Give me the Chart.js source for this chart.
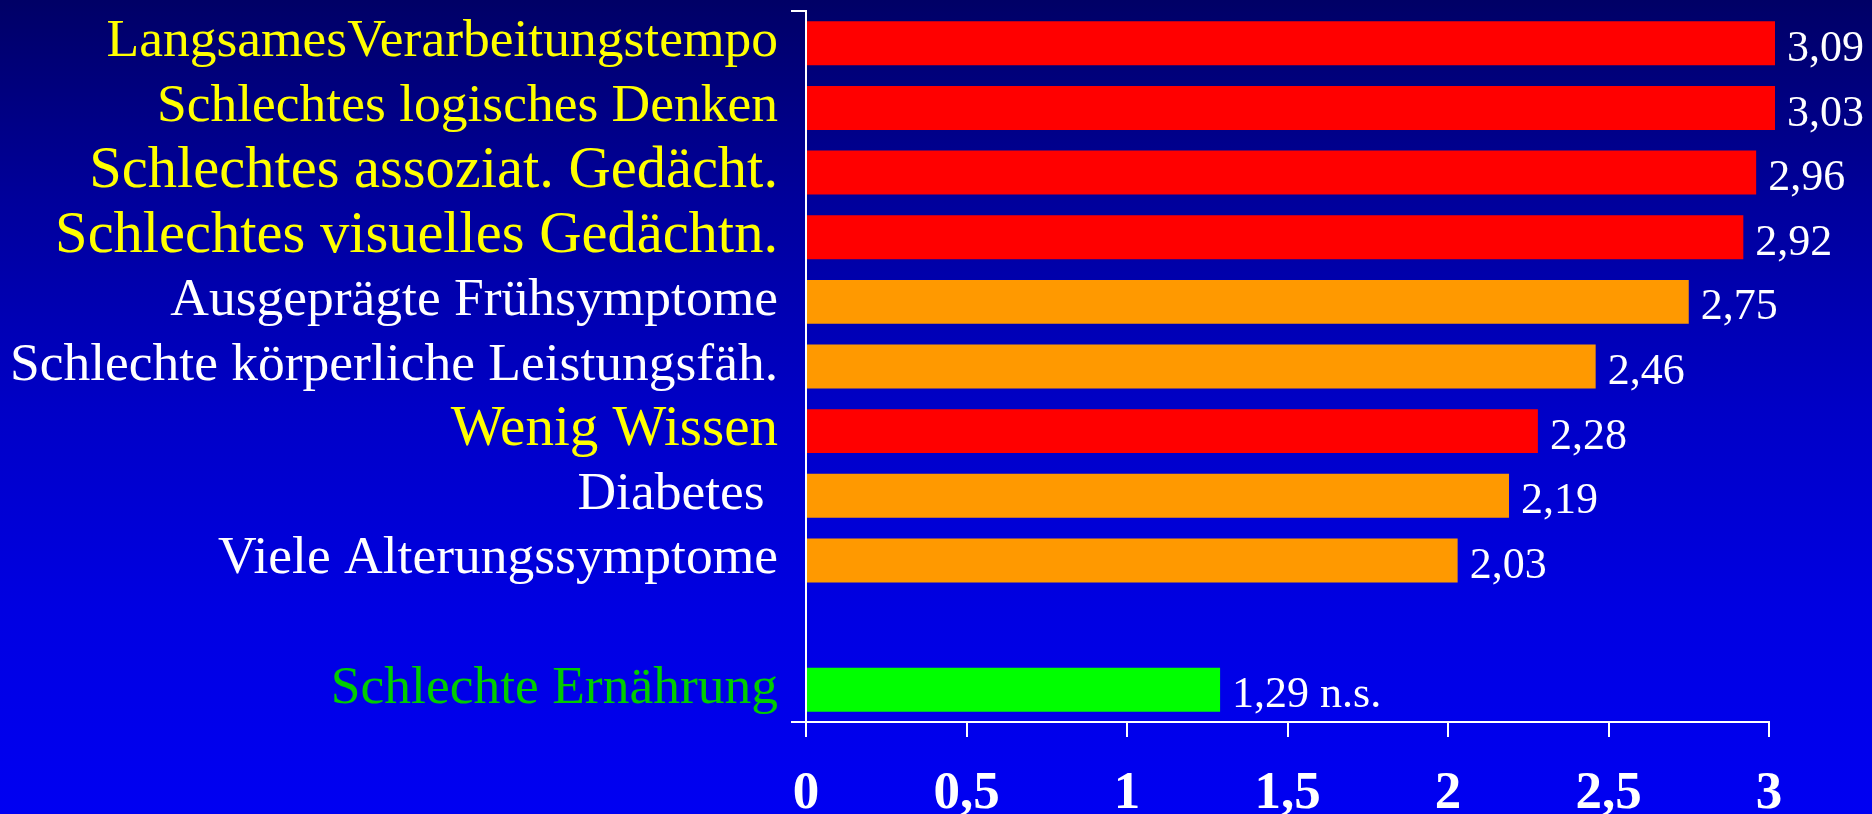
<!DOCTYPE html>
<html>
<head>
<meta charset="utf-8">
<style>
  html, body { margin: 0; padding: 0; background: #0000c0; overflow: hidden; }
  #c { display: block; }
</style>
<script src="https://cdn.jsdelivr.net/npm/chart.js@4/dist/chart.umd.min.js"></script>
</head>
<body>
<canvas id="c" width="1872" height="814"></canvas>
<script>
// ---- data ----
const categories = [
  'LangsamesVerarbeitungstempo',
  'Schlechtes logisches Denken',
  'Schlechtes assoziat. Gedächt.',
  'Schlechtes visuelles Gedächtn.',
  'Ausgeprägte Frühsymptome',
  'Schlechte körperliche Leistungsfäh.',
  'Wenig Wissen',
  'Diabetes ',
  'Viele Alterungssymptome',
  '',
  'Schlechte Ernährung'
];
const oddsValues = [3.09, 3.03, 2.96, 2.92, 2.75, 2.46, 2.28, 2.19, 2.03, null, 1.29];
const valueNotes = ['', '', '', '', '', '', '', '', '', '', 'n.s.'];
const groups = ['kognitiv', 'kognitiv', 'kognitiv', 'kognitiv', 'körperlich', 'körperlich',
                'kognitiv', 'körperlich', 'körperlich', null, 'ernährung'];
const xTickLabels = ['0', '0,5', '1', '1,5', '2', '2,5', '3'];

// ---- styles ----
const barColors = { 'kognitiv': '#ff0000', 'körperlich': '#ff9900', 'ernährung': '#00ff00' };
const labelColors = { 'kognitiv': '#ffff00', 'körperlich': '#ffffff', 'ernährung': '#00cc00' };
const labelSizes = [53.5, 53.5, 58.5, 58.5, 53.5, 53.5, 57, 53.5, 53.5, 53.5, 53.5];
const SERIF = '"Liberation Serif", "Times New Roman", Times, serif';

const bgPlugin = {
  id: 'bg',
  beforeDraw(chart) {
    const ctx = chart.ctx;
    const g = ctx.createLinearGradient(0, 0, 0, chart.height);
    g.addColorStop(0, '#000066');
    g.addColorStop(0.25, '#00009c');
    g.addColorStop(0.5, '#0000c6');
    g.addColorStop(0.75, '#0000e2');
    g.addColorStop(1, '#0000f2');
    ctx.save();
    ctx.fillStyle = g;
    ctx.fillRect(0, 0, chart.width, chart.height);
    ctx.restore();
  }
};

const valueLabelPlugin = {
  id: 'valueLabels',
  afterDatasetsDraw(chart) {
    const ctx = chart.ctx;
    const meta = chart.getDatasetMeta(0);
    const area = chart.chartArea;
    const clipRight = area.right + 6;
    ctx.save();
    ctx.fillStyle = '#ffffff';
    ctx.font = '44px ' + SERIF;
    ctx.textAlign = 'left';
    ctx.textBaseline = 'middle';
    meta.data.forEach((bar, i) => {
      const v = oddsValues[i];
      if (v === null || v === undefined) return;
      let txt = v.toFixed(2).replace('.', ',');
      if (valueNotes[i]) txt += ' ' + valueNotes[i];
      const x = Math.min(bar.x, clipRight) + 12;
      ctx.fillText(txt, x, bar.y + 6);
    });
    ctx.restore();
  }
};

new Chart(document.getElementById('c'), {
  type: 'bar',
  data: {
    labels: categories,
    datasets: [{
      data: oddsValues,
      backgroundColor: groups.map(g => g ? barColors[g] : 'rgba(0,0,0,0)'),
      borderWidth: 0,
      categoryPercentage: 1,
      barPercentage: 0.68,
      clip: { left: 10, top: 10, right: 6, bottom: 10 }
    }]
  },
  options: {
    indexAxis: 'y',
    responsive: false,
    animation: false,
    devicePixelRatio: 1,
    layout: { padding: { left: 0, top: 11, right: 103, bottom: 0 } },
    plugins: { legend: { display: false }, tooltip: { enabled: false } },
    scales: {
      x: {
        type: 'linear',
        min: 0,
        max: 3,
        afterBuildTicks(scale) {
          scale.ticks = xTickLabels.map((_, i) => ({ value: i * 0.5 }));
        },
        afterFit(scale) { scale.height = 92; },
        ticks: {
          callback: (v, i) => xTickLabels[i],
          color: '#ffffff',
          font: { family: SERIF, size: 53, weight: 'bold', lineHeight: 1.1 },
          padding: 28,
          maxRotation: 0,
          autoSkip: false
        },
        grid: {
          display: true,
          drawOnChartArea: false,
          drawTicks: true,
          tickLength: 15,
          color: '#ffffff',
          lineWidth: 2
        },
        border: { display: true, color: '#ffffff', width: 2 }
      },
      y: {
        type: 'category',
        afterFit(scale) {
          scale.width = 806;
          scale.paddingTop = 0;
          scale.paddingBottom = 0;
        },
        ticks: {
          color: c => {
            const g = groups[c.index];
            return g ? labelColors[g] : '#ffffff';
          },
          font: c => ({ family: SERIF, size: labelSizes[c.index] || 53.5 }),
          padding: 13,
          labelOffset: -1,
          autoSkip: false
        },
        grid: {
          display: true,
          offset: true,
          drawOnChartArea: false,
          drawTicks: true,
          tickLength: 15,
          lineWidth: 2,
          color: c => (c.type === 'scale' || c.index === 0) ? '#ffffff' : 'rgba(0,0,0,0)'
        },
        border: { display: true, color: '#ffffff', width: 2 }
      }
    }
  },
  plugins: [bgPlugin, valueLabelPlugin]
});
</script>
</body>
</html>
